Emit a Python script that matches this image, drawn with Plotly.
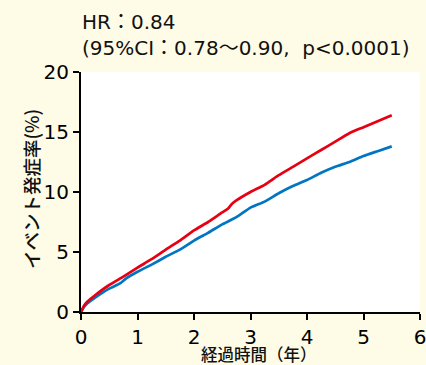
import plotly.graph_objects as go

t_red = [0, 0.05, 0.12, 0.25, 0.5, 0.75, 1.0, 1.25, 1.5, 1.75, 2.0, 2.25, 2.5, 2.6, 2.67, 2.75, 3.0, 3.25, 3.5, 3.75, 4.0, 4.25, 4.5, 4.75, 5.0, 5.25, 5.5]
y_red = [0, 0.5, 0.9, 1.4, 2.25, 2.95, 3.7, 4.4, 5.2, 5.95, 6.8, 7.5, 8.3, 8.6, 9.0, 9.3, 10.0, 10.6, 11.4, 12.1, 12.8, 13.5, 14.2, 14.9, 15.4, 15.9, 16.4]

t_blue = [0, 0.05, 0.12, 0.25, 0.5, 0.7, 0.8, 1.0, 1.25, 1.5, 1.75, 2.0, 2.25, 2.5, 2.75, 3.0, 3.25, 3.5, 3.75, 4.0, 4.25, 4.5, 4.75, 5.0, 5.25, 5.5]
y_blue = [0, 0.4, 0.75, 1.2, 1.95, 2.4, 2.8, 3.35, 3.95, 4.6, 5.2, 5.95, 6.6, 7.3, 7.9, 8.7, 9.2, 9.9, 10.5, 11.0, 11.6, 12.1, 12.5, 13.0, 13.4, 13.8]

x_ticks = [0, 1, 2, 3, 4, 5, 6]
y_ticks = [0, 5, 10, 15, 20]

LATIN = "DejaVu Sans, Noto Sans CJK JP, sans-serif"
CJK = "Noto Sans CJK JP, sans-serif"
RED = "#E60012"
BLUE = "#0075C2"
BG = "#FEFCE6"

W, H = 426, 365
ML, MR, MT, MB = 81, 6, 72, 53
PW, PH = W - ML - MR, H - MT - MB


def px2paper(px, py):
    return (px - ML) / PW, (H - MB - py) / PH


fig = go.Figure()
fig.add_trace(go.Scatter(x=t_blue, y=y_blue, mode="lines",
                         line=dict(color=BLUE, width=2.7, shape="spline", smoothing=0.4),
                         showlegend=False))
fig.add_trace(go.Scatter(x=t_red, y=y_red, mode="lines",
                         line=dict(color=RED, width=2.7, shape="spline", smoothing=0.4),
                         showlegend=False))

axis_common = dict(ticks="outside", ticklen=6, tickwidth=1.5, tickcolor="black",
                   showline=True, linecolor="black", linewidth=2, showgrid=False,
                   zeroline=False, automargin=False, ticklabeloverflow="allow",
                   tickfont=dict(size=20, family=LATIN, color="black"))

fig.update_layout(
    width=W, height=H,
    margin=dict(l=ML, r=MR, t=MT, b=MB),
    paper_bgcolor=BG, plot_bgcolor="white",
    font=dict(family=LATIN, color="#111111"),
    xaxis=dict(range=[0, 6], tickvals=x_ticks, **axis_common),
    yaxis=dict(range=[0, 20], tickvals=y_ticks, **axis_common),
)

ann = [
    dict(text="HR：0.84", px=80, py=22, size=20, font=LATIN, angle=0, xanchor="left"),
    dict(text="(95%CI：0.78～0.90,&nbsp;&nbsp;p<0.0001)", px=80, py=48, size=20, font=LATIN, angle=0, xanchor="left"),
    dict(text="経過時間（年）", px=259, py=354, size=16.5, font=CJK, angle=0, xanchor="center"),
    dict(text="イベント発症率(%)", px=31, py=189, size=18.5, font=CJK, angle=-90, xanchor="center"),
]
for a in ann:
    x, y = px2paper(a["px"], a["py"])
    fig.add_annotation(text=a["text"], x=x, y=y, xref="paper", yref="paper",
                       showarrow=False, textangle=a["angle"], xanchor=a["xanchor"],
                       yanchor="middle",
                       font=dict(size=a["size"], family=a["font"], color="#111", weight=500 if a["font"] == CJK else 400))

fig.write_html("out.html", config={"displayModeBar": False},
               post_script="document.body.style.margin='0';")
